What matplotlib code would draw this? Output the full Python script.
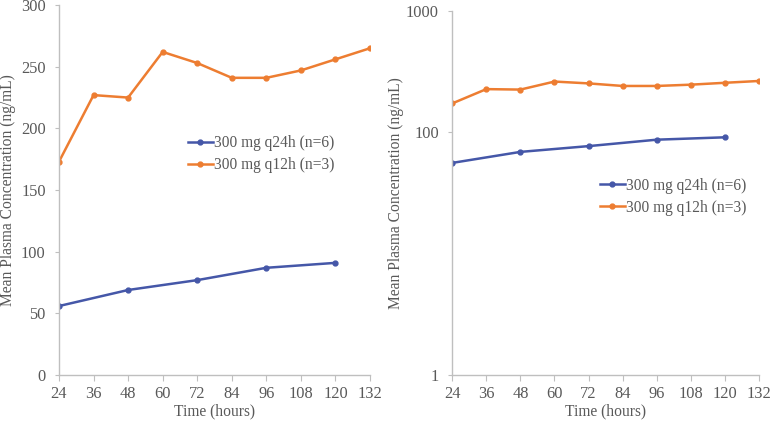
import numpy as np
import matplotlib.pyplot as plt

plt.rcParams['font.family'] = ['Liberation Serif', 'DejaVu Serif']

hours_q24 = [24, 48, 72, 96, 120]
conc_q24 = [56, 69, 77, 87, 91]
hours_q12 = [24, 36, 48, 60, 72, 84, 96, 108, 120, 132]
conc_q12 = [173, 227, 225, 262, 253, 241, 241, 247, 256, 265]
xticks = [24, 36, 48, 60, 72, 84, 96, 108, 120, 132]

blue = '#4557A8'
orange = '#ED7D31'
grey_txt = '#595959'
grey_ax = '#BFBFBF'
fs = 11.2

fig = plt.figure(figsize=(7.73, 4.21), dpi=100)
ax1 = fig.add_axes([0.0763, 0.109, 0.4024, 0.879])
ax2 = fig.add_axes([0.585, 0.109, 0.397, 0.865])


def style(ax):
    for s in ['top', 'right']:
        ax.spines[s].set_visible(False)
    for s in ['left', 'bottom']:
        ax.spines[s].set_color(grey_ax)
        ax.spines[s].set_linewidth(1.0)
    ax.tick_params(colors=grey_ax, labelcolor=grey_txt, labelsize=fs + 0.6, length=4, width=0.8)
    ax.tick_params(axis='y', length=3, pad=6.5)
    ax.set_xlim(24, 132)
    ax.set_xticks(xticks)
    ax.set_xlabel('Time (hours)', fontsize=fs, color=grey_txt, labelpad=1)
    ax.set_ylabel('Mean Plasma Concentration (ng/mL)', fontsize=fs, color=grey_txt)
    ax.plot(hours_q24, conc_q24, color=blue, lw=1.8, marker='o', ms=3.5, label='300 mg q24h (n=6)')
    ax.plot(hours_q12, conc_q12, color=orange, lw=1.8, marker='o', ms=3.5, label='300 mg q12h (n=3)')


style(ax1)
ax1.set_ylim(0, 300)
ax1.set_yticks(np.arange(0, 301, 50))
ax1.yaxis.set_label_coords(-0.138, 0.5)
ax1.legend(loc='center left', bbox_to_anchor=(0.389, 0.597), frameon=False, fontsize=fs,
           borderpad=0, handlelength=1.6, handletextpad=0.1, labelspacing=0.4, labelcolor=grey_txt)

style(ax2)
ax2.set_yscale('log')
ax2.set_ylim(1, 1000)
ax2.set_yticks([1, 100, 1000])
ax2.set_yticklabels(['1', '100', '1000'])
ax2.minorticks_off()
ax2.yaxis.set_label_coords(-0.158, 0.5)
ax2.legend(loc='center left', bbox_to_anchor=(0.455, 0.49), frameon=False, fontsize=fs,
           borderpad=0, handlelength=1.6, handletextpad=0.1, labelspacing=0.4, labelcolor=grey_txt)

fig.savefig('out.png', dpi=100)
